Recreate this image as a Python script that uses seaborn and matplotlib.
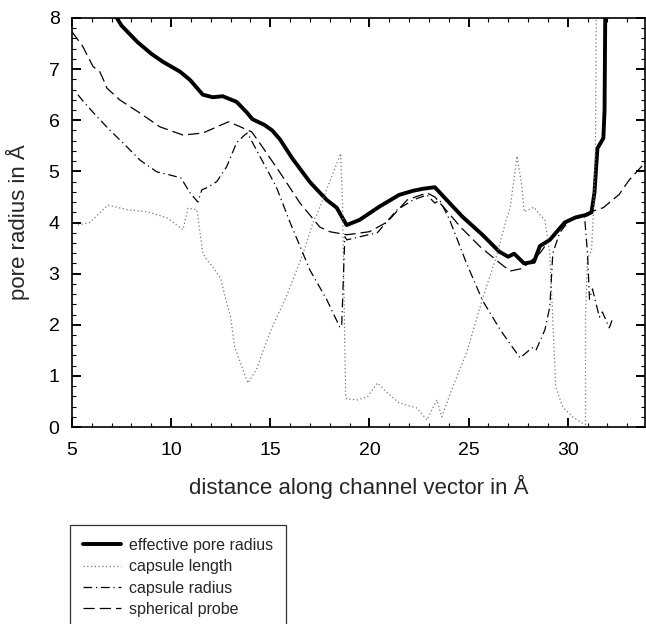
import matplotlib
matplotlib.use("Agg")
import matplotlib.pyplot as plt
from matplotlib.ticker import MultipleLocator
import seaborn as sns

# ─── Data ───────────────────────────────────────────────────
eff_x = [6.95, 7.5, 8.3, 9.0, 9.6, 10.45, 10.95, 11.6, 12.1, 12.6, 13.3, 13.8,
         14.1, 14.7, 15.1, 15.5, 16.1, 17.0, 17.85, 18.35, 18.85, 19.5, 20.5,
         21.5, 22.2, 22.7, 23.3, 23.9, 24.7, 25.7, 26.55, 27.0, 27.3, 27.8,
         28.3, 28.6, 29.1, 29.85, 30.4, 30.95, 31.2, 31.35, 31.5, 31.8, 31.86,
         31.9]
eff_y = [8.2, 7.85, 7.53, 7.3, 7.14, 6.95, 6.79, 6.5, 6.45, 6.47, 6.36, 6.16,
         6.02, 5.91, 5.8, 5.62, 5.26, 4.79, 4.44, 4.29, 3.95, 4.05, 4.31,
         4.54, 4.62, 4.66, 4.69, 4.44, 4.11, 3.76, 3.43, 3.33, 3.39, 3.2,
         3.23, 3.54, 3.66, 4.0, 4.1, 4.15, 4.2, 4.58, 5.45, 5.65, 6.2,
         8.3]

cap_len_x = [5.3, 5.9, 6.8, 7.8, 8.8, 9.8, 10.6, 10.85, 11.3, 11.6, 11.8, 12.1,
             12.5, 12.7, 13.0, 13.2, 13.5, 13.87, 14.3, 14.6, 15.1, 15.8, 16.6,
             17.2, 17.35, 18.55, 18.65, 18.8, 18.85, 19.4, 19.9, 20.4, 20.9,
             21.5, 22.4, 22.9, 23.4, 23.65, 24.2, 24.9, 25.7, 26.4, 26.9, 27.1,
             27.45, 27.7, 27.8, 28.3, 28.6, 28.85, 29.1, 29.25, 29.4, 29.75,
             30.25, 30.7, 30.9, 30.9, 31.0, 31.2, 31.3, 31.4, 31.45]
cap_len_y = [3.95, 4.0, 4.34, 4.25, 4.21, 4.09, 3.86, 4.28, 4.25, 3.4, 3.27, 3.13,
             2.91, 2.58, 2.15, 1.57, 1.25, 0.86, 1.12, 1.45, 1.96, 2.54, 3.33,
             4.05, 4.15, 5.35, 4.3, 0.6, 0.55, 0.53, 0.59, 0.86, 0.67,
             0.47, 0.37, 0.14, 0.53, 0.2, 0.78, 1.45, 2.5, 3.33, 4.05, 4.29,
             5.3, 4.68, 4.21, 4.3, 4.15, 4.05, 3.4, 2.09, 0.78, 0.39,
             0.2, 0.08, 0.05, 2.2, 3.3, 3.45, 4.2, 5.4, 8.5]

cap_rad_x = [5.3, 5.5, 6.26, 6.9, 7.77, 8.43, 9.28, 9.94, 10.5, 10.95, 11.35,
             11.55, 11.8, 12.3, 12.8, 13.3, 13.7, 13.85, 14.3, 15.3, 16.0, 17.0,
             17.85, 18.5, 18.6, 18.76, 18.86, 19.5, 20.4, 21.4, 22.2, 22.9, 23.3,
             23.55, 24.05, 24.9, 25.7, 26.6, 27.6, 28.2, 28.4, 28.85, 29.1,
             29.25, 29.6, 30.1, 30.85, 31.0, 31.1, 31.25, 31.6, 31.75, 32.1,
             32.25]
cap_rad_y = [6.5, 6.4, 6.07, 5.81, 5.48, 5.22, 4.99, 4.93, 4.87, 4.58, 4.4,
             4.64, 4.68, 4.8, 5.09, 5.56, 5.71, 5.75, 5.42, 4.7, 4.0, 3.07,
             2.49, 1.96, 1.96, 3.72, 3.66, 3.72, 3.8, 4.25, 4.44, 4.54, 4.38,
             4.44, 4.05, 3.2, 2.48, 1.9, 1.35, 1.55, 1.5, 1.9, 2.35,
             3.4, 3.8, 4.05, 4.12, 3.4, 2.5, 2.7, 2.15, 2.25, 1.94,
             2.1]

probe_x = [5.0, 5.55, 6.06, 6.4, 6.66, 6.76, 7.4, 8.43, 9.44, 10.6, 11.6, 12.3,
           12.9, 13.5, 14.07, 14.6, 15.5, 16.5, 17.5, 18.0, 18.86, 20.0, 20.9,
           21.9, 22.9, 23.3, 24.6, 25.6, 26.6, 27.1, 27.7, 28.6, 29.25, 30.1,
           31.0, 31.8, 32.6, 33.1, 33.9]
probe_y = [7.73, 7.44, 7.05, 6.95, 6.73, 6.63, 6.4, 6.14, 5.87, 5.71, 5.75, 5.87,
           5.97, 5.87, 5.77, 5.48, 4.97, 4.38, 3.91, 3.82, 3.76, 3.82, 4.01,
           4.44, 4.58, 4.5, 3.91, 3.52, 3.2, 3.05, 3.1, 3.4, 3.75, 4.05,
           4.19, 4.29, 4.55, 4.83, 5.17]

labels = ["effective pore radius", "capsule length", "capsule radius", "spherical probe"]

sns.set_theme(style="ticks")
plt.rcParams['font.family'] = ['Liberation Sans', 'DejaVu Sans']

fig = plt.figure(figsize=(6.46, 6.24), dpi=100)
ax = fig.add_axes([72 / 646, 1 - 427 / 624, 573 / 646, 409 / 624])

sns.lineplot(x=eff_x, y=eff_y, ax=ax, sort=False, estimator=None,
             color="black", linewidth=2.8, label=labels[0])
sns.lineplot(x=cap_len_x, y=cap_len_y, ax=ax, sort=False, estimator=None,
             color="#777777", linewidth=0.9, linestyle=(0, (1, 2)), label=labels[1])
sns.lineplot(x=cap_rad_x, y=cap_rad_y, ax=ax, sort=False, estimator=None,
             color="black", linewidth=0.9, linestyle=(0, (7, 3, 1, 3)), label=labels[2])
sns.lineplot(x=probe_x, y=probe_y, ax=ax, sort=False, estimator=None,
             color="black", linewidth=0.9, linestyle=(0, (9, 4)), label=labels[3])

ax.set_xlim(5, 33.9)
ax.set_ylim(0, 8)
ax.xaxis.set_major_locator(MultipleLocator(5))
ax.xaxis.set_minor_locator(MultipleLocator(1))
ax.yaxis.set_major_locator(MultipleLocator(1))
ax.yaxis.set_minor_locator(MultipleLocator(0.2))
ax.tick_params(which='both', direction='in', top=True, right=True, colors='black')
ax.tick_params(which='major', length=6.5, width=1.4, labelsize=14)
ax.tick_params(which='minor', length=3.2, width=0.8)
ax.tick_params(axis='x', which='major', pad=11)
ax.tick_params(axis='y', which='major', pad=9)
for s in ax.spines.values():
    s.set_linewidth(1.2)
    s.set_color('black')

ax.set_xlabel("distance along channel vector in Å", fontsize=16, labelpad=11)
ax.set_ylabel("pore radius in Å", fontsize=16, labelpad=13)

handles, labs = ax.get_legend_handles_labels()
ax.get_legend().remove()
leg = fig.legend(handles, labs, loc='upper left', bbox_to_anchor=(70 / 646, 1 - 525 / 624),
                 fontsize=11.5, frameon=True, fancybox=False, edgecolor='black',
                 handlelength=2.4, handletextpad=0.5, labelspacing=0.4, borderpad=0.8,
                 borderaxespad=0)
leg.get_frame().set_linewidth(0.9)

fig.savefig("out.png", dpi=100)
